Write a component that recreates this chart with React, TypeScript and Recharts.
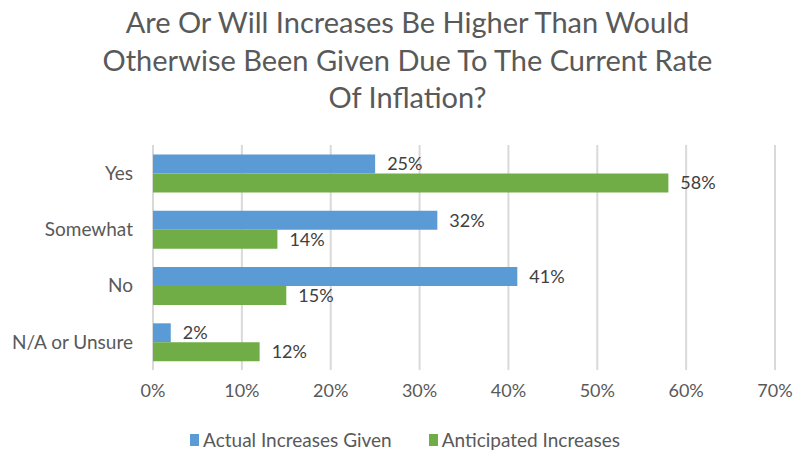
import { BarChart, Bar, XAxis, YAxis, CartesianGrid, Legend, LabelList } from "recharts";

const categories = ["Yes", "Somewhat", "No", "N/A or Unsure"];
const actualIncreases = [25, 32, 41, 2];
const anticipatedIncreases = [58, 14, 15, 12];
const xTicks = [0, 10, 20, 30, 40, 50, 60, 70];
const titleLines = [
  "Are Or Will Increases Be Higher Than Would",
  "Otherwise Been Given Due To The Current Rate",
  "Of Inflation?",
];

const data = categories.map((name, i) => ({
  name,
  actual: actualIncreases[i],
  anticipated: anticipatedIncreases[i],
}));

const FONT = "Lato, 'Open Sans', sans-serif";
const TEXT = "#595959";
const BLUE = "#5B9BD5";
const GREEN = "#70AD47";

const LegendContent = (props: any) => {
  const items = props.payload || [];
  return (
    <div
      style={{
        display: "flex",
        justifyContent: "center",
        gap: 37,
        fontFamily: FONT,
        fontSize: 19,
        color: TEXT,
      }}
    >
      {items.map((it: any) => (
        <div key={it.value} style={{ display: "flex", alignItems: "center" }}>
          <span style={{ width: 9, height: 12, background: it.color, marginRight: 4, display: "inline-block" }} />
          {it.value}
        </div>
      ))}
    </div>
  );
};

export default function App() {
  return (
    <div style={{ position: "absolute", left: 0, top: 0, width: 795, height: 451, background: "#fff" }}>
      <div
        style={{
          position: "absolute",
          left: 10,
          top: 3,
          width: 795,
          textAlign: "center",
          fontFamily: FONT,
          fontSize: 29,
          lineHeight: "37.5px",
          color: TEXT,
        }}
      >
        {titleLines.map((l) => (
          <div key={l}>{l}</div>
        ))}
      </div>
      <BarChart
        width={795}
        height={451}
        data={data}
        layout="vertical"
        margin={{ top: 145, right: 20, bottom: 0, left: 0 }}
        barCategoryGap="17%"
        barGap={0}
      >
        <CartesianGrid horizontal={false} stroke="#D9D9D9" strokeWidth={2} />
        <XAxis
          type="number"
          domain={[0, 70]}
          ticks={xTicks}
          tickFormatter={(v) => `${v}%`}
          axisLine={false}
          tickLine={false}
          tickSize={0}
          tickMargin={14}
          height={81}
          tick={{ fill: TEXT, fontSize: 18, fontFamily: FONT }}
        />
        <YAxis
          type="category"
          dataKey="name"
          width={153}
          axisLine={false}
          tickLine={false}
          tickSize={0}
          tickMargin={20}
          tick={{ fill: TEXT, fontSize: 19, fontFamily: FONT }}
        />
        <Legend
          verticalAlign="middle"
          align="center"
          content={<LegendContent />}
          wrapperStyle={{ position: "absolute", left: 0, top: 428, width: 810 }}
        />
        <Bar dataKey="actual" name="Actual Increases Given" fill={BLUE} isAnimationActive={false}>
          <LabelList
            dataKey="actual"
            position="right"
            offset={12}
            formatter={(v: any) => `${v}%`}
            style={{ fill: "#404040", fontSize: 18, fontFamily: FONT }}
          />
        </Bar>
        <Bar dataKey="anticipated" name="Anticipated Increases" fill={GREEN} isAnimationActive={false}>
          <LabelList
            dataKey="anticipated"
            position="right"
            offset={12}
            formatter={(v: any) => `${v}%`}
            style={{ fill: "#404040", fontSize: 18, fontFamily: FONT }}
          />
        </Bar>
      </BarChart>
    </div>
  );
}
